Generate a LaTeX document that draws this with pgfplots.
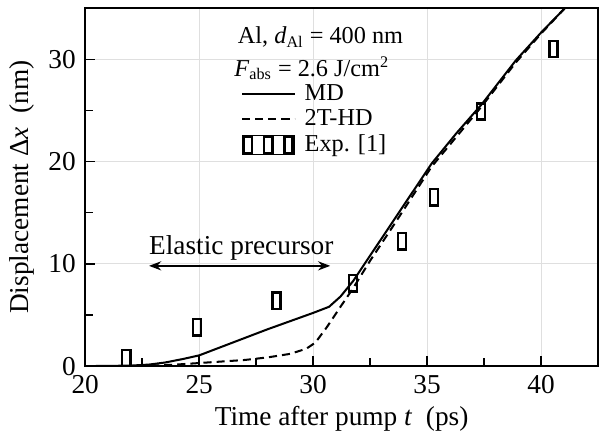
\documentclass[border=0pt]{standalone}
\usepackage{fontspec}
\setmainfont{Liberation Serif}
\usepackage{pgfplots}
\pgfplotsset{compat=1.18}
\usetikzlibrary{arrows.meta}

\pgfdeclareplotmark{tallrect}{%
  \pgfpathrectangle{\pgfpoint{-2pt}{-4pt}}{\pgfpoint{4pt}{8pt}}%
  \pgfusepathqstroke}
\pgfplotsset{longline/.style={legend image code/.code={\draw[##1] (0pt,0pt) -- (26pt,0pt);}}}

\begin{document}
\fontsize{13.5}{16}\selectfont
\begin{tikzpicture}
\begin{axis}[scale only axis, width=253.5pt, height=177pt,
  xmin=20, xmax=42.5, ymin=0, ymax=35,
  xtick={20,25,30,35,40}, ytick={0,10,20,30},
  minor x tick num=1, minor y tick num=1,
  xtick pos=bottom, ytick pos=left, tick align=inside,
  major tick length=5pt, minor tick length=4pt,
  every tick/.style={black, line width=0.7pt},
  axis line style={line width=1pt},
  grid=major, grid style={gray!25, line width=0.5pt},
  /pgf/number format/assume math mode=true,
  tick label style={font=\fontsize{13.5}{16}\selectfont},
  label style={font=\fontsize{13.5}{16}\selectfont},
  xlabel={Time after pump \textit{t}\ \ (ps)},
  ylabel={Displacement Δ\textit{x}\ \ (nm)},
  xlabel style={yshift=3pt}, ylabel style={yshift=-2pt},
  legend style={at={(rel axis cs:0.303,0.797)}, anchor=north west,
    draw=none, fill=none, font=\fontsize{12}{14}\selectfont,
    row sep=-0.5pt, column sep=3pt, inner sep=0pt, nodes={inner sep=1.5pt}},
  legend cell align=left]
\addplot[black, line width=1pt, longline] coordinates {
  (20,0) (21,0.02) (22,0.05) (22.8,0.15) (23.5,0.35) (24.3,0.7) (25,1.05)
  (26,1.9) (27,2.75) (28,3.6) (29,4.4) (30,5.2) (30.7,5.8) (31.2,6.8)
  (31.75,8.3) (32.5,10.8) (33.7,14.8) (35.2,19.8) (36.3,22.8) (37.4,25.6)
  (38.9,29.9) (40,32.6) (41.05,35)};
\addlegendentry{MD}
\addplot[black, line width=1pt, dash pattern=on 4pt off 2.5pt, longline] coordinates {
  (20,0) (22,0) (23,0.05) (24,0.15) (25,0.3) (26,0.45) (27,0.6) (28,0.85)
  (29,1.2) (29.7,1.7) (30.1,2.3) (30.6,3.8) (31.2,5.8) (31.75,7.6)
  (32.5,10.3) (33.6,14.0) (35.2,19.5) (37.4,25.4) (38.9,29.7) (40,32.5)
  (41.05,35)};
\addlegendentry{2T-HD}
\addplot[black, only marks, mark=tallrect, mark options={line width=1.2pt},
  legend image code/.code={
    \draw[black, line width=1.2pt] (1pt,-4pt) rectangle (5pt,4pt);
    \draw[black, line width=1.2pt] (11pt,-4pt) rectangle (15pt,4pt);
    \draw[black, line width=1.2pt] (21pt,-4pt) rectangle (25pt,4pt);
    \path[use as bounding box] (0pt,-4.6pt) rectangle (26pt,4.6pt);}]
  coordinates {
  (21.8,0.8) (24.9,3.8) (28.4,6.4) (31.75,8.1) (33.9,12.2) (35.3,16.5)
  (37.36,24.9) (40.55,31.0)};
\addlegendentry{Exp. [1]}
\node[anchor=base west, inner sep=0pt, font=\fontsize{12}{14}\selectfont]
  at (rel axis cs:0.297,0.90) {Al, \textit{d}\textsubscript{Al} = 400 nm};
\node[anchor=base west, inner sep=0pt, font=\fontsize{12}{14}\selectfont]
  at (rel axis cs:0.29,0.81) {\textit{F}\textsubscript{abs} = 2.6 J/cm\textsuperscript{2}};
\draw[{Stealth[length=6pt]}-{Stealth[length=6pt]}, line width=0.8pt]
  (axis cs:22.8,9.8) -- (axis cs:30.75,9.8);
\node[anchor=base] at (axis cs:26.85,10.9) {Elastic precursor};
\end{axis}
\path (current axis.north east) ++(0,4pt);
\end{tikzpicture}
\end{document}
